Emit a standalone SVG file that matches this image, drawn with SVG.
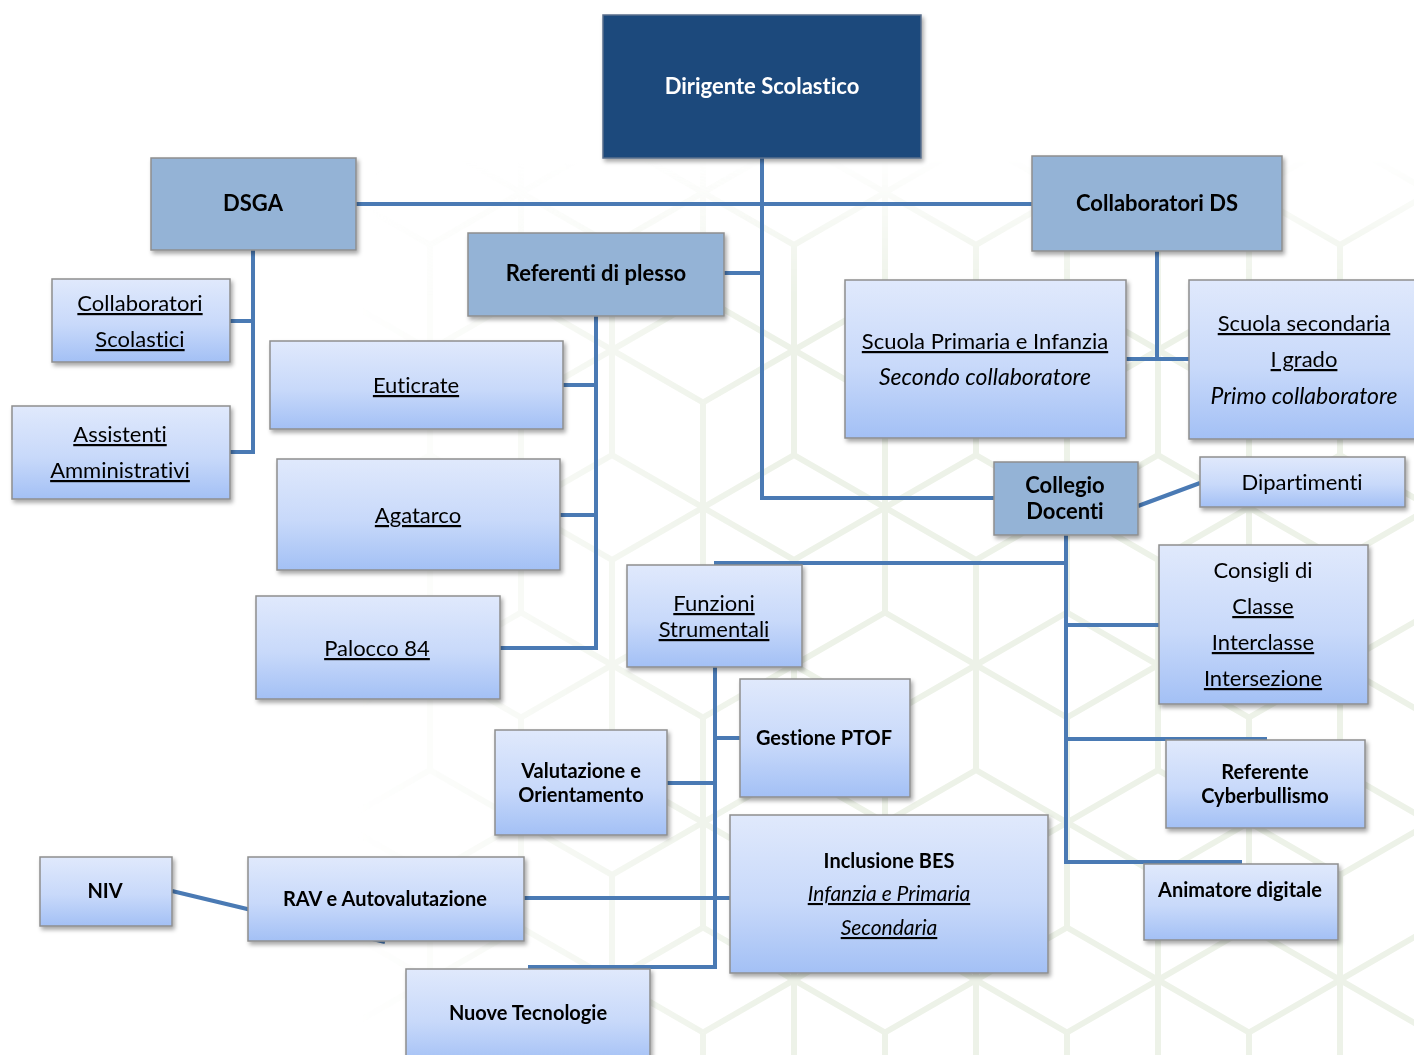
<svg xmlns="http://www.w3.org/2000/svg" width="1414" height="1055" viewBox="0 0 1414 1055">
<style>
.t{font-family:Lato,"Liberation Sans",sans-serif;font-size:22px;fill:#000;text-anchor:middle;font-variant-ligatures:none}
.b{font-weight:bold}
.u{text-decoration:underline}
.i{font-style:italic}
.i2{font-size:23px}
.w{fill:#fff}
.s18{font-size:20px}
.i18{font-size:21px}
.lite{fill:url(#g)}
.mid{fill:#94b3d6}
.box{stroke:#8e8e8e;stroke-width:1.5}
.con path{fill:none;stroke:#4a7ab4;stroke-width:4}
</style>
<defs>
<linearGradient id="g" x1="0" y1="0" x2="0" y2="1">
<stop offset="0" stop-color="#e0e9fc"/>
<stop offset="0.55" stop-color="#c8d9fa"/>
<stop offset="1" stop-color="#a3c0f5"/>
</linearGradient>
<filter id="sh" x="-10%" y="-10%" width="130%" height="140%">
<feDropShadow dx="2" dy="3" stdDeviation="2" flood-color="#000" flood-opacity="0.35"/>
</filter>
<pattern id="hex" patternUnits="userSpaceOnUse" x="66" y="35" width="182" height="315">
<g stroke="#edf2e8" stroke-width="6" fill="none">
<path d="M0,-105V105M-91,-52.5L91,52.5M-91,52.5L91,-52.5"/>
<path d="M182,-105V105M91,-52.5L273,52.5M91,52.5L273,-52.5"/>
<path d="M0,210V420M-91,262.5L91,367.5M-91,367.5L91,262.5"/>
<path d="M182,210V420M91,262.5L273,367.5M91,367.5L273,262.5"/>
<path d="M91,52.5V262.5M0,105L182,210M0,210L182,105"/>
</g>
</pattern>
<linearGradient id="fx" x1="0" y1="0" x2="1" y2="0">
<stop offset="0.25" stop-color="#fff" stop-opacity="0"/>
<stop offset="0.55" stop-color="#fff" stop-opacity="1"/>
</linearGradient>
<linearGradient id="fy" x1="0" y1="0" x2="0" y2="1">
<stop offset="0.15" stop-color="#fff" stop-opacity="0"/>
<stop offset="0.28" stop-color="#fff" stop-opacity="1"/>
</linearGradient>
<mask id="mx"><rect width="1414" height="1055" fill="url(#fx)"/></mask>
<mask id="my"><rect width="1414" height="1055" fill="url(#fy)"/></mask>
</defs>
<rect width="1414" height="1055" fill="#fff"/>
<g id="background" mask="url(#mx)"><g mask="url(#my)"><rect width="1414" height="1055" fill="url(#hex)"/></g></g>

<g id="connectors" class="con">
<path d="M762,158V498H994"/>
<path d="M356,204H1032"/>
<path d="M724,273H762"/>
<path d="M253,250V452H230M230,321H253"/>
<path d="M596,316V648H500M563,385H596M560,515H596"/>
<path d="M1157,251V359M1126,359H1189"/>
<path d="M1138,506L1200,483"/>
<path d="M1066,535V862H1242M714,563H1066M1066,625H1159M1066,739H1267"/>
<path d="M715,667V967H528M715,738H740M667,783H715M524,898H730"/>
<path d="M172,891L385,942"/>
</g>

<g id="dirigente" filter="url(#sh)"><rect x="603" y="15" width="318" height="143" fill="#1f497c" stroke="#5a6f8c" stroke-width="1.5"/><text class="t b w" x="762" y="94">Dirigente Scolastico</text></g>
<g id="dsga" filter="url(#sh)"><rect class="mid box" x="151" y="158" width="205" height="92"/><text class="t b" x="253" y="211">DSGA</text></g>
<g id="collaboratori-ds" filter="url(#sh)"><rect class="mid box" x="1032" y="156" width="250" height="95"/><text class="t b" x="1157" y="211">Collaboratori DS</text></g>
<g id="referenti" filter="url(#sh)"><rect class="mid box" x="468" y="233" width="256" height="83"/><text class="t b" x="596" y="281">Referenti di plesso</text></g>
<g id="collegio" filter="url(#sh)"><rect class="mid box" x="994" y="462" width="144" height="73"/><text class="t b" x="1065" y="493">Collegio</text><text class="t b" x="1065" y="519">Docenti</text></g>

<g id="collab-scolastici" filter="url(#sh)"><rect class="lite box" x="52" y="279" width="178" height="83"/><text class="t u" x="140" y="311">Collaboratori</text><text class="t u" x="140" y="347">Scolastici</text></g>
<g id="assistenti" filter="url(#sh)"><rect class="lite box" x="12" y="406" width="218" height="93"/><text class="t u" x="120" y="442">Assistenti</text><text class="t u" x="120" y="478">Amministrativi</text></g>
<g id="euticrate" filter="url(#sh)"><rect class="lite box" x="270" y="341" width="293" height="88"/><text class="t u" x="416" y="393">Euticrate</text></g>
<g id="agatarco" filter="url(#sh)"><rect class="lite box" x="277" y="459" width="283" height="111"/><text class="t u" x="418" y="523">Agatarco</text></g>
<g id="palocco" filter="url(#sh)"><rect class="lite box" x="256" y="596" width="244" height="103"/><text class="t u" x="377" y="656">Palocco 84</text></g>
<g id="primaria" filter="url(#sh)"><rect class="lite box" x="845" y="280" width="281" height="158"/><text class="t u" x="985" y="349">Scuola Primaria e Infanzia</text><text class="t i i2" x="985" y="385">Secondo collaboratore</text></g>
<g id="secondaria" filter="url(#sh)"><rect class="lite box" x="1189" y="280" width="230" height="159"/><text class="t u" x="1304" y="331">Scuola secondaria</text><text class="t u" x="1304" y="367">I grado</text><text class="t i i2" x="1304" y="404">Primo collaboratore</text></g>
<g id="dipartimenti" filter="url(#sh)"><rect class="lite box" x="1200" y="457" width="205" height="50"/><text class="t" x="1302" y="490">Dipartimenti</text></g>
<g id="consigli" filter="url(#sh)"><rect class="lite box" x="1159" y="545" width="209" height="159"/><text class="t" x="1263" y="578">Consigli di</text><text class="t u" x="1263" y="614">Classe</text><text class="t u" x="1263" y="650">Interclasse</text><text class="t u" x="1263" y="686">Intersezione</text></g>
<g id="cyberbullismo" filter="url(#sh)"><rect class="lite box" x="1166" y="740" width="199" height="88"/><text class="t b s18" x="1265" y="779">Referente</text><text class="t b s18" x="1265" y="803">Cyberbullismo</text></g>
<g id="animatore" filter="url(#sh)"><rect class="lite box" x="1144" y="864" width="194" height="76"/><text class="t b s18" x="1240" y="897">Animatore digitale</text></g>
<g id="funzioni" filter="url(#sh)"><rect class="lite box" x="627" y="565" width="175" height="102"/><text class="t u" x="714" y="611">Funzioni</text><text class="t u" x="714" y="637">Strumentali</text></g>
<g id="ptof" filter="url(#sh)"><rect class="lite box" x="740" y="679" width="170" height="118"/><text class="t b s18" x="824" y="745">Gestione PTOF</text></g>
<g id="valutazione" filter="url(#sh)"><rect class="lite box" x="495" y="730" width="172" height="105"/><text class="t b s18" x="581" y="778">Valutazione e</text><text class="t b s18" x="581" y="802">Orientamento</text></g>
<g id="inclusione" filter="url(#sh)"><rect class="lite box" x="730" y="815" width="318" height="158"/><text class="t b s18" x="889" y="868">Inclusione BES</text><text class="t i u i18" x="889" y="901">Infanzia e Primaria</text><text class="t i u i18" x="889" y="935">Secondaria</text></g>
<g id="niv" filter="url(#sh)"><rect class="lite box" x="40" y="857" width="132" height="69"/><text class="t b s18" x="105" y="898">NIV</text></g>
<g id="rav" filter="url(#sh)"><rect class="lite box" x="248" y="857" width="276" height="84"/><text class="t b s18" x="385" y="906">RAV e Autovalutazione</text></g>
<g id="nuove-tecnologie" filter="url(#sh)"><rect class="lite box" x="406" y="969" width="244" height="95"/><text class="t b s18" x="528" y="1020">Nuove Tecnologie</text></g>
</svg>
